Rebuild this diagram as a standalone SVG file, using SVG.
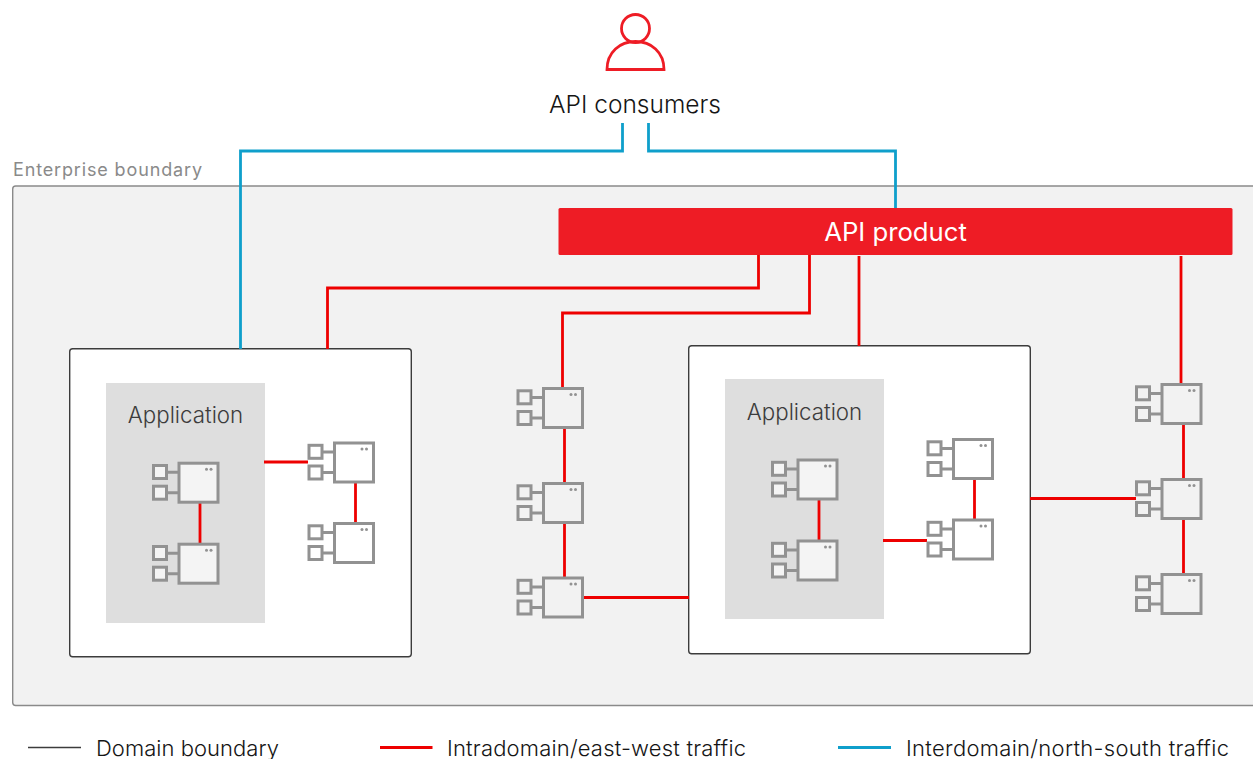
<svg xmlns="http://www.w3.org/2000/svg" xmlns:xlink="http://www.w3.org/1999/xlink" width="1253" height="759" viewBox="0 0 1253 759">
<style>
text{font-family:"Inter","Liberation Sans",sans-serif;fill:#151515;font-weight:300}
.blue{fill:none;stroke:#0f9fcb;stroke-width:2.8}
.red{fill:none;stroke:#ee0000;stroke-width:2.8}
.cs{fill:none;stroke:#929292;stroke-width:3}
.cf{stroke:#929292;stroke-width:3}
.dom{fill:#fff;stroke:#3c3c3c;stroke-width:1.4}
.app{fill:#dedede}
.lbl{font-size:22.3px;fill:#3c3c3c;text-anchor:middle}
.leg{font-size:22px}
.on-white{fill:#fff}
.on-app{fill:#f4f4f4}
.on-bg{fill:#f2f2f2}
</style>
<defs>
<g id="comp">
<rect class="cf" x="0" y="0" width="39" height="39"/>
<rect class="cf" x="-25.500" y="2.300" width="13" height="13"/>
<rect class="cf" x="-25.500" y="23" width="13" height="13"/>
<path class="cs" d="M-12.500 9H0M-12.500 29.500H0"/>
<circle cx="27.500" cy="6" r="1.500" style="fill:#929292"/>
<circle cx="32" cy="6" r="1.500" style="fill:#929292"/>
</g>
</defs>
<rect width="1253" height="759" fill="#fff"/>
<g id="enterprise-boundary">
<rect x="12.700" y="186" width="1260" height="519.500" rx="3" fill="#f2f2f2" stroke="#8a8a8a" stroke-width="1.400"/>
<text x="13" y="175.500" font-size="18" textLength="189" lengthAdjust="spacing" style="fill:#8a8a8a;font-weight:400">Enterprise boundary</text>
</g>
<g id="domain-left"><rect class="dom" x="69.700" y="348.700" width="341.600" height="308" rx="3"/></g>
<g id="domain-right"><rect class="dom" x="688.700" y="345.700" width="341.600" height="308" rx="3"/></g>
<g id="app-left"><rect class="app" x="106" y="383" width="159" height="240"/><text class="lbl" x="185.500" y="423">Application</text></g>
<g id="app-right"><rect class="app" x="725" y="379" width="159" height="240"/><text class="lbl" x="804.500" y="420">Application</text></g>
<g id="connectors">
<path class="blue" d="M622.500 123V151H240.500V349"/>
<path class="blue" d="M648.500 123V151H895.500V208"/>
<path class="red" d="M758.500 255V288H327.500V349"/>
<path class="red" d="M809.500 255V313H562.500V388"/>
<path class="red" d="M859 256V346"/>
<path class="red" d="M1181 256V384"/>
<path class="red" d="M200 503V544M264 462H308M355.500 482V524"/>
<path class="red" d="M564.500 428V483M564.500 523V578M582 597.500H689"/>
<path class="red" d="M819 499V541M883 540.500H927M974.500 479V520"/>
<path class="red" d="M1030 498.500H1136M1183.500 424V479M1183.500 519V574"/>
</g>
<g id="person" fill="none" stroke="#ee1c25" stroke-width="2.800"><circle cx="635.500" cy="28.500" r="14"/><path d="M607 69.500H664C664 52 651 41.500 635.500 41.500S607 52 607 69.500Z"/></g>
<g id="api-consumers"><text x="635" y="113" font-size="24.500" text-anchor="middle">API consumers</text></g>
<g id="api-product"><rect x="558.500" y="208" width="674" height="47" rx="1.500" fill="#ee1c25"/><text x="895.500" y="241" font-size="25.700" text-anchor="middle" style="fill:#fff;font-weight:400">API product</text></g>
<g id="c1" class="on-app"><use href="#comp" x="179" y="463.200"/></g>
<g id="c2" class="on-app"><use href="#comp" x="179" y="544.200"/></g>
<g id="c3" class="on-white"><use href="#comp" x="334.500" y="443"/></g>
<g id="c4" class="on-white"><use href="#comp" x="334.500" y="523.500"/></g>
<g id="c5" class="on-bg"><use href="#comp" x="543.500" y="388.500"/></g>
<g id="c6" class="on-bg"><use href="#comp" x="543.500" y="483.500"/></g>
<g id="c7" class="on-bg"><use href="#comp" x="543.500" y="578"/></g>
<g id="c8" class="on-app"><use href="#comp" x="798" y="460"/></g>
<g id="c9" class="on-app"><use href="#comp" x="798" y="541"/></g>
<g id="c10" class="on-white"><use href="#comp" x="953.500" y="439.500"/></g>
<g id="c11" class="on-white"><use href="#comp" x="953.500" y="520"/></g>
<g id="c12" class="on-bg"><use href="#comp" x="1162" y="384.500"/></g>
<g id="c13" class="on-bg"><use href="#comp" x="1162" y="479.500"/></g>
<g id="c14" class="on-bg"><use href="#comp" x="1162" y="574.500"/></g>
<g id="legend">
<path d="M28 747.500H81" stroke="#3c3c3c" stroke-width="1.400" fill="none"/>
<text class="leg" x="96" y="755.500" textLength="183" lengthAdjust="spacing">Domain boundary</text>
<path class="red" d="M380 747.500H432.500"/>
<text class="leg" x="447" y="755.500" textLength="299" lengthAdjust="spacing">Intradomain/east-west traffic</text>
<path class="blue" d="M838 747.500H891"/>
<text class="leg" x="906" y="755.500" textLength="323" lengthAdjust="spacing">Interdomain/north-south traffic</text>
</g>
</svg>
